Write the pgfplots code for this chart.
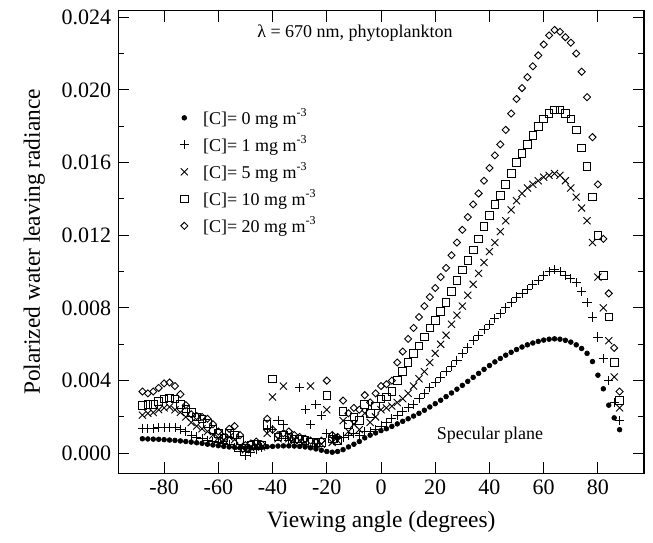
\documentclass[border=0pt]{standalone}
\usepackage{fontspec}
\setmainfont{Liberation Serif}
\usepackage{pgfplots}
\usepackage{pgfplotstable}
\pgfplotsset{compat=1.18}
\pgfplotstableread{
x c0 c1 c5 c10 c20
-88 0.00080 0.00135 0.00210 0.00265 0.00340
-86 0.00079 0.00135 0.00220 0.00270 0.00330
-84 0.00078 0.00138 0.00225 0.00270 0.00340
-82 0.00077 0.00140 0.00240 0.00285 0.00360
-80 0.00075 0.00142 0.00250 0.00300 0.00385
-78 0.00073 0.00143 0.00255 0.00305 0.00390
-76 0.00071 0.00140 0.00240 0.00300 0.00370
-74 0.00068 0.00132 0.00225 0.00270 0.00325
-72 0.00065 0.00120 0.00200 0.00245 0.00265
-70 0.00062 0.00100 0.00170 0.00225 0.00215
-68 0.00058 0.00090 0.00150 0.00200 0.00205
-66 0.00055 0.00080 0.00135 0.00190 0.00200
-64 0.00050 0.00070 0.00120 0.00165 0.00190
-62 0.00046 0.00065 0.00100 0.00130 0.00160
-60 0.00042 0.00060 0.00085 0.00110 0.00120
-58 0.00038 0.00055 0.00075 0.00085 0.00090
-56 0.00035 0.00050 0.00090 0.00110 0.00135
-54 0.00033 0.00030 0.00075 0.00100 0.00150
-52 0.00031 0.00010 0.00040 0.00070 0.00100
-50 0.00030 -0.00010 0.00020 0.00030 0.00045
-48 0.00030 0.00005 0.00030 0.00045 0.00055
-46 0.00031 0.00020 0.00040 0.00050 0.00065
-44 0.00033 0.00030 0.00035 0.00045 0.00050
-42 0.00036 0.00130 0.00110 0.00160 0.00190
-40 0.00038 0.00130 0.00310 0.00410 0.00130
-38 0.00040 0.00180 0.00080 0.00090 0.00100
-36 0.00041 0.00160 0.00370 0.00100 0.00110
-34 0.00041 0.00070 0.00080 0.00090 0.00120
-32 0.00040 0.00060 0.00070 0.00080 0.00100
-30 0.00038 0.00360 0.00070 0.00080 0.00090
-28 0.00035 0.00240 0.00060 0.00070 0.00080
-26 0.00030 0.00160 0.00370 0.00060 0.00070
-24 0.00024 0.00270 0.00050 0.00060 0.00060
-22 0.00017 0.00210 0.00050 0.00060 0.00070
-20 0.00010 0.00110 0.00240 0.00320 0.00400
-18 0.00006 0.00090 0.00060 0.00080 0.00100
-16 0.00010 0.00080 0.00070 0.00070 0.00090
-14 0.00020 0.00090 0.00180 0.00230 0.00290
-12 0.00035 0.00100 0.00120 0.00160 0.00220
-10 0.00050 0.00110 0.00160 0.00200 0.00250
-8 0.00065 0.00100 0.00130 0.00180 0.00240
-6 0.00085 0.00120 0.00220 0.00270 0.00320
-4 0.00100 0.00120 0.00170 0.00220 0.00280
-2 0.00112 0.00130 0.00200 0.00260 0.00330
0 0.00125 0.00150 0.00240 0.00300 0.00370
2 0.00135 0.00170 0.00250 0.00310 0.00380
4 0.00148 0.00190 0.00260 0.00340 0.00400
6 0.00162 0.00210 0.00280 0.00400 0.00500
8 0.00176 0.00230 0.00300 0.00450 0.00560
10 0.00190 0.00250 0.00330 0.00500 0.00630
12 0.00205 0.00270 0.00370 0.00550 0.00690
14 0.00220 0.00300 0.00410 0.00590 0.00750
16 0.00237 0.00330 0.00450 0.00640 0.00810
18 0.00255 0.00360 0.00500 0.00690 0.00860
20 0.00273 0.00390 0.00550 0.00730 0.00910
22 0.00292 0.00420 0.00600 0.00780 0.00970
24 0.00312 0.00450 0.00650 0.00830 0.01020
26 0.00332 0.00480 0.00710 0.00890 0.01090
28 0.00353 0.00510 0.00760 0.00950 0.01160
30 0.00374 0.00550 0.00810 0.01010 0.01230
32 0.00396 0.00580 0.00870 0.01060 0.01300
34 0.00418 0.00620 0.00930 0.01120 0.01370
36 0.00440 0.00650 0.00990 0.01180 0.01430
38 0.00462 0.00680 0.01050 0.01250 0.01500
40 0.00483 0.00710 0.01110 0.01310 0.01570
42 0.00503 0.00740 0.01160 0.01370 0.01640
44 0.00522 0.00770 0.01220 0.01420 0.01700
46 0.00540 0.00800 0.01280 0.01480 0.01780
48 0.00556 0.00830 0.01340 0.01540 0.01870
50 0.00571 0.00860 0.01390 0.01600 0.01950
52 0.00585 0.00880 0.01430 0.01650 0.02010
54 0.00597 0.00900 0.01460 0.01700 0.02070
56 0.00607 0.00930 0.01480 0.01750 0.02130
58 0.00616 0.00950 0.01500 0.01800 0.02190
60 0.00623 0.00980 0.01520 0.01840 0.02250
62 0.00628 0.01000 0.01530 0.01870 0.02300
64 0.00630 0.01010 0.01540 0.01890 0.02330
66 0.00628 0.01000 0.01530 0.01890 0.02320
68 0.00622 0.00980 0.01500 0.01870 0.02290
70 0.00612 0.00960 0.01460 0.01840 0.02260
72 0.00597 0.00940 0.01410 0.01780 0.02200
74 0.00577 0.00890 0.01350 0.01680 0.02100
76 0.00550 0.00830 0.01280 0.01580 0.01960
78 0.00505 0.00750 0.01160 0.01410 0.01740
80 0.00430 0.00640 0.00970 0.01200 0.01480
82 0.00355 0.00520 0.00800 0.00980 0.01180
84 0.00265 0.00400 0.00620 0.00750 0.00880
86 0.00195 0.00280 0.00420 0.00500 0.00580
88 0.00130 0.00180 0.00250 0.00290 0.00340
}\data
\begin{document}
\begin{tikzpicture}
\begin{axis}[
  scale only axis, width=262.85pt, height=231.3pt,
  xmin=-96.9, xmax=97, ymin=-0.0011, ymax=0.02436,
  xtick={-80,-60,-40,-20,0,20,40,60,80},
  ytick={0,0.004,0.008,0.012,0.016,0.020,0.024},
  minor y tick num=1,
  tick align=inside,
  major tick length=5.5pt, minor tick length=3pt,
  axis line style={line width=0.6pt},
  tick style={line width=0.5pt, black},
  scaled y ticks=false,
  yticklabel style={/pgf/number format/.cd, fixed, fixed zerofill, precision=3},
  /pgf/number format/assume math mode=true,
  tick label style={font=\fontsize{11}{13}\selectfont},
  label style={font=\fontsize{11.7}{14}\selectfont},
  xlabel={Viewing angle (degrees)},
  ylabel={Polarized water leaving radiance},
  xlabel style={at={(axis description cs:0.5,-0.1053)}, anchor=center},
  ylabel style={at={(axis description cs:-0.1598,0.5)}, anchor=center},
  legend style={draw=none, fill=none, inner sep=0pt, at={(axis cs:-74.8,0.01549)}, anchor=west,
    font=\fontsize{9}{10}\selectfont, row sep=0pt,
    nodes={inner sep=0pt, minimum height=13.5pt}},
  legend cell align=left,
  legend image code/.code={\path[draw=none] (0cm,0cm) -- (0.43cm,0cm); \draw[draw=none] plot coordinates {(0.1cm,0cm)};},
]
\addplot[only marks, mark=*, mark size=1.2pt, mark options={draw=black, fill=black, line width=0.3pt}] table[x=x,y=c0] {\data};
\addlegendentry{[C]= 0 mg m\textsuperscript{-3}}
\addplot[only marks, mark=+, mark size=2.3pt, mark options={draw=black, line width=0.45pt}] table[x=x,y=c1] {\data};
\addlegendentry{[C]= 1 mg m\textsuperscript{-3}}
\addplot[only marks, mark=x, mark size=2.5pt, mark options={draw=black, line width=0.45pt}] table[x=x,y=c5] {\data};
\addlegendentry{[C]= 5 mg m\textsuperscript{-3}}
\addplot[only marks, mark=square, mark size=1.9pt, mark options={draw=black, line width=0.45pt}] table[x=x,y=c10] {\data};
\addlegendentry{[C]= 10 mg m\textsuperscript{-3}}
\addplot[only marks, mark=square, mark size=1.25pt, mark options={draw=black, rotate=45, line width=0.45pt}] table[x=x,y=c20] {\data};
\addlegendentry{[C]= 20 mg m\textsuperscript{-3}}
\node[font=\fontsize{9}{10}\selectfont] at (axis cs:-9.6,0.02314) {λ = 670 nm, phytoplankton};
\node[font=\fontsize{9}{10}\selectfont] at (axis cs:40.2,0.00101) {Specular plane};
\end{axis}
\pgfresetboundingbox
\path ([shift={(-59.15pt,-34.85pt)}]current axis.south west) rectangle ([shift={(4.5pt,5.35pt)}]current axis.north east);
\end{tikzpicture}
\end{document}
